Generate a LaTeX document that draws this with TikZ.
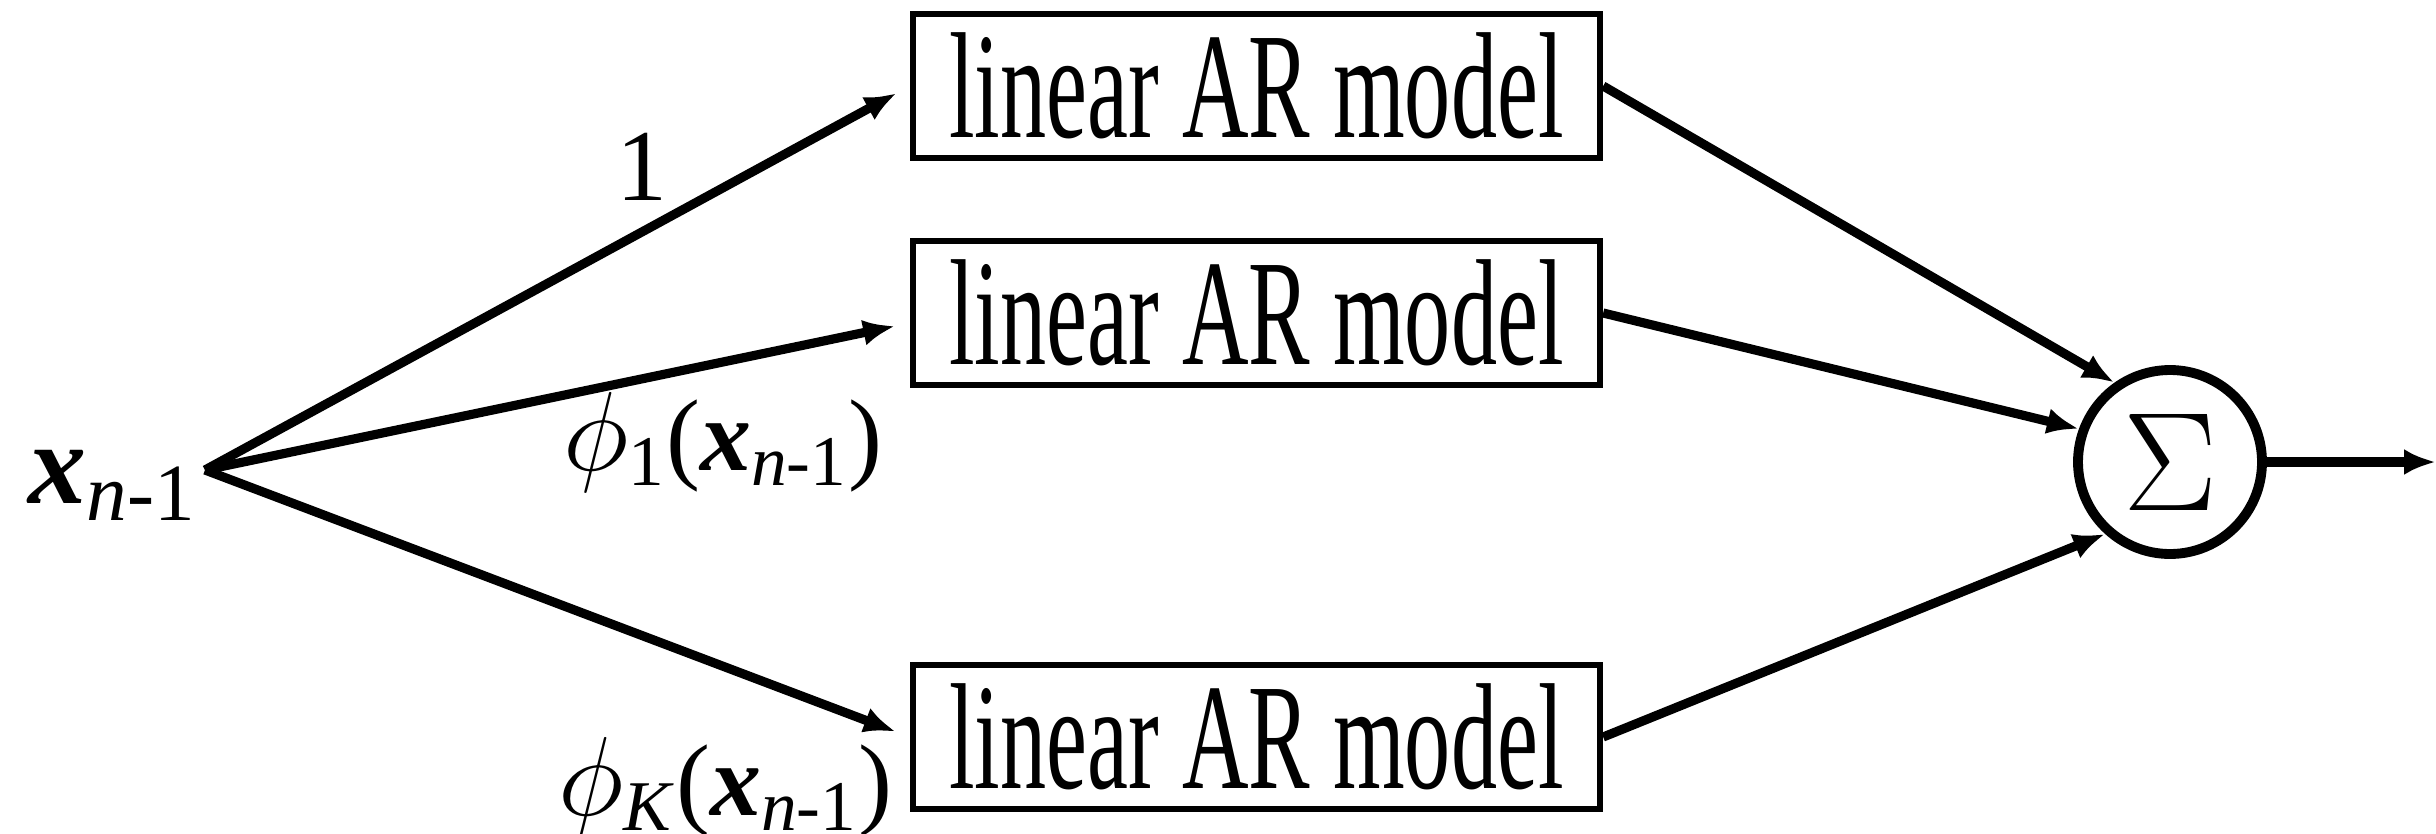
\RequirePackage{fix-cm}
\documentclass[tikz,border=0pt]{standalone}
\usepackage{fontspec}
\setmainfont{Liberation Serif}
\newfontfamily\narrowfont{Liberation Serif}[FakeStretch=0.61]
\usetikzlibrary{arrows.meta}
\newcommand{\bx}{\textbf{\textit{x}}}
\newcommand{\sbn}{\textsubscript{\textit{n}-1}}
\newcommand{\bigphi}{{\fontsize{32}{32}\selectfont$\phi$}}
\tikzset{
 armodel/.style={draw, line width=1.8pt, minimum width=6.87cm, minimum height=1.44cm, inner sep=0pt, font=\narrowfont\fontsize{43}{43}\selectfont},
 lbl/.style={inner sep=0pt, font=\fontsize{29}{29}\selectfont},
 conn/.style={line width=2.6pt, -{Latex[length=0.32cm,width=0.26cm]}}
}
\begin{document}
\begin{tikzpicture}
\useasboundingbox (0,0) rectangle (24.36,8.33);

%input
\node[lbl, anchor=base west, font=\fontsize{33}{33}\selectfont] (xin) at (0.28,3.30) {\bx\sbn};
\coordinate (src) at (2.05,3.63);

%models
\node[armodel] (m1) at (12.565,7.47) {linear AR model};
\node[armodel] (m2) at (12.565,5.20) {linear AR model};
\node[armodel] (mK) at (12.565,0.96) {linear AR model};

%sum
\node[draw, circle, line width=2.8pt, minimum size=1.84cm, inner sep=0pt, font=\fontsize{40}{40}\selectfont] (sum) at (21.70,3.71) {$\Sigma$};
\coordinate (out) at (24.36,3.71);

%weights
\draw[conn, shorten >=0.15cm] (src) -- (m1.west);
\draw[conn, shorten >=0.15cm] (src) -- ([yshift=-0.1cm]m2.west);
\draw[conn, shorten >=0.15cm] (src) -- (mK.west);
\node[lbl, anchor=base] (w1) at (6.42,6.33) {1};
\node[lbl, anchor=base west] (w2) at (5.63,3.63) {\bigphi\textsubscript{1}(\bx\sbn)};
\node[lbl, anchor=base west] (wK) at (5.58,0.18) {\bigphi\textsubscript{\textit{K}}(\bx\sbn)};

%into the sum
\draw[conn] (m1.east) -- (sum.125);
\draw[conn] (m2.east) -- (sum.160);
\draw[conn] (mK.east) -- (sum.228);
\draw[conn] (sum.east) -- (out);
\end{tikzpicture}
\end{document}
